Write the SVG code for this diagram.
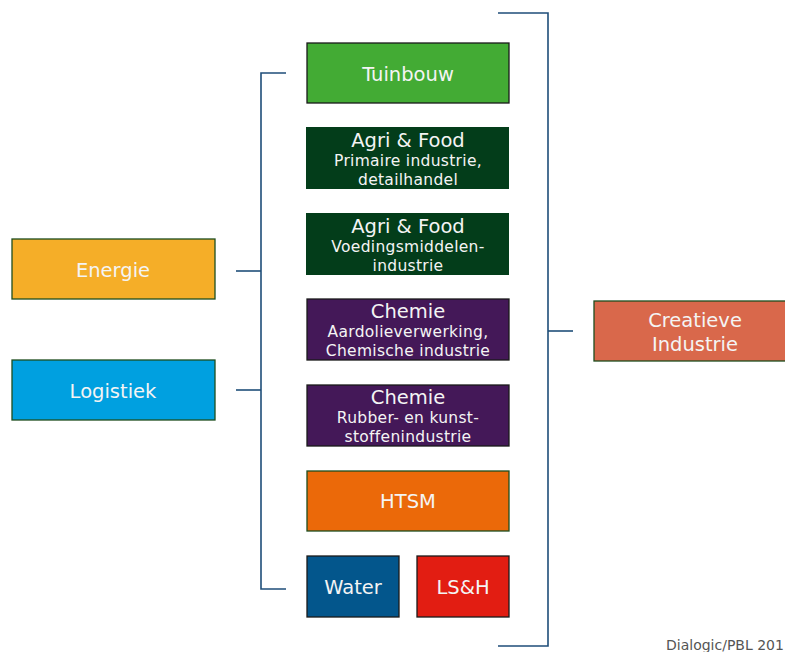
<svg xmlns="http://www.w3.org/2000/svg" width="785" height="652" viewBox="0 0 785 652">
<style>
.t{font-family:"DejaVu Sans","Liberation Sans",sans-serif;fill:#F4F4F4;text-anchor:middle}
.h{font-size:19.5px}
.s{font-size:15.5px;letter-spacing:0.3px}
.bx{stroke:#1a1a1a;stroke-width:1.3}
.bg{stroke:#1E4D1E;stroke-width:1.3}
.ln{fill:none;stroke:#1F4E79;stroke-width:1.6}
</style>
<rect width="785" height="652" fill="#fff"/>
<g id="connectors">
<path class="ln" d="M286 73H261V589H286"/>
<path class="ln" d="M236 271H261"/>
<path class="ln" d="M236 390H261"/>
<path class="ln" d="M498 13H548V646H498"/>
<path class="ln" d="M548 331H573"/>
</g>
<g id="tuinbouw"><rect class="bx" x="307" y="43" width="202" height="60" fill="#43AB34"/><text class="t h" x="408" y="81">Tuinbouw</text></g>
<g id="agrifood1"><rect x="306" y="127" width="203" height="62" fill="#033D1A"/><text class="t h" x="408" y="147">Agri &amp; Food</text><text class="t s" x="408" y="166">Primaire industrie,</text><text class="t s" x="408" y="185">detailhandel</text></g>
<g id="agrifood2"><rect x="306" y="213" width="203" height="62" fill="#033D1A"/><text class="t h" x="408" y="233">Agri &amp; Food</text><text class="t s" x="408" y="252">Voedingsmiddelen-</text><text class="t s" x="408" y="271">industrie</text></g>
<g id="chemie1"><rect class="bx" x="307" y="299" width="202" height="61" fill="#441858"/><text class="t h" x="408" y="318">Chemie</text><text class="t s" x="408" y="337">Aardolieverwerking,</text><text class="t s" x="408" y="356">Chemische industrie</text></g>
<g id="chemie2"><rect class="bx" x="307" y="385" width="202" height="61" fill="#441858"/><text class="t h" x="408" y="404">Chemie</text><text class="t s" x="408" y="423">Rubber- en kunst-</text><text class="t s" x="408" y="442">stoffenindustrie</text></g>
<g id="htsm"><rect class="bg" x="307" y="471" width="202" height="60" fill="#EB6909"/><text class="t h" x="408" y="508">HTSM</text></g>
<g id="water"><rect class="bx" x="307" y="556" width="92" height="61" fill="#03568C"/><text class="t h" x="353" y="594">Water</text></g>
<g id="lsh"><rect class="bx" x="417" y="556" width="92" height="61" fill="#E21D12"/><text class="t h" x="463" y="594">LS&amp;H</text></g>
<g id="energie"><rect class="bg" x="12" y="239" width="203" height="60" fill="#F5AE28"/><text class="t h" x="113" y="277">Energie</text></g>
<g id="logistiek"><rect class="bg" x="12" y="360" width="203" height="60" fill="#00A0E0"/><text class="t h" x="113" y="398">Logistiek</text></g>
<g id="creatieve"><rect class="bg" x="594" y="301" width="200" height="60" fill="#D9684B"/><text class="t h" x="695" y="327">Creatieve</text><text class="t h" x="695" y="351">Industrie</text></g>
<text x="666" y="650" font-family="DejaVu Sans,sans-serif" font-size="14" fill="#555">Dialogic/PBL 201</text>
</svg>
